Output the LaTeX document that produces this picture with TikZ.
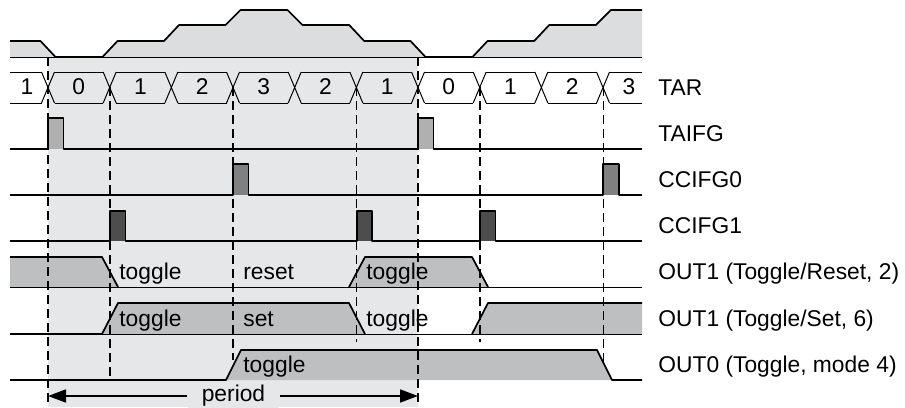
\documentclass[tikz,border=0pt]{standalone}
\usepackage{fontspec}
\setmainfont{Liberation Sans}
\usetikzlibrary{arrows.meta}
\definecolor{shadec}{RGB}{230,231,232}
\definecolor{topc}{RGB}{220,221,223}
\definecolor{outc}{RGB}{190,191,193}
\definecolor{flagc}{RGB}{176,176,176}
\definecolor{ccizc}{RGB}{128,128,128}
\definecolor{cciac}{RGB}{77,77,77}

\begin{document}
\begin{tikzpicture}[
  x=0.5pt, y=-0.5pt,
  font=\fontsize{11.4}{13}\selectfont,
  wave/.style={line width=0.85pt, line join=round},
  base/.style={line width=0.5pt},
  guide/.style={line width=0.65pt, dash pattern=on 4.5pt off 2.5pt},
  edge/.style={guide, line width=1pt},
  sig/.style={anchor=base west, inner sep=0pt},
  cnt/.style={inner sep=0pt},
  >={Triangle[length=9pt,width=6.5pt]}
]
\useasboundingbox (0,0) rectangle (905,407);

% one timer period
\fill[shadec] (48,57) rectangle (418,407);

% counter value drawn as a level
\fill[topc] (10,41) -- (40.5,41) -- (55.5,57) -- (102.5,57) -- (117.5,41)
  -- (164,41) -- (179,25) -- (225.5,25) -- (240.5,10) -- (287.5,10)
  -- (302.5,25) -- (349.2,25) -- (364.2,41) -- (410.5,41) -- (425.5,57)
  -- (472.5,57) -- (487.5,41) -- (534.2,41) -- (549.2,25) -- (595.8,25)
  -- (610.8,10) -- (642,10) -- (642,57) -- (10,57) -- cycle;
\draw[wave] (10,41) -- (40.5,41) -- (55.5,57) -- (102.5,57) -- (117.5,41)
  -- (164,41) -- (179,25) -- (225.5,25) -- (240.5,10) -- (287.5,10)
  -- (302.5,25) -- (349.2,25) -- (364.2,41) -- (410.5,41) -- (425.5,57)
  -- (472.5,57) -- (487.5,41) -- (534.2,41) -- (549.2,25) -- (595.8,25)
  -- (610.8,10) -- (642,10);
\draw[base] (10,57) -- (642,57);

% TAR bus
\foreach \i in {0,...,9}
  \draw[base] (48+\i*61.67-6.5,72) -- (48+\i*61.67+6.5,103)
              (48+\i*61.67-6.5,103) -- (48+\i*61.67+6.5,72);
\foreach \v [count=\i from 0] in {0,1,2,3,2,1,0,1,2} {
  \draw[base] (48+\i*61.67+6.5,72) -- (48+\i*61.67+55.17,72)
              (48+\i*61.67+6.5,103) -- (48+\i*61.67+55.17,103);
  \node[cnt] (tar\i) at (48+\i*61.67+30.8,87) {\v};
}
\draw[base] (10,72) -- (41.5,72) (10,103) -- (41.5,103);
\draw[base] (609.8,72) -- (642,72) (609.8,103) -- (642,103);
\node[cnt] (tarl) at (27,87) {1};
\node[cnt] (tarr) at (629,87) {3};

% flags
\foreach \x in {48,418}
  \fill[flagc] (\x,118) rectangle (\x+15.4,149);
\draw[wave] (10,149) -- (48,149) |- (63.4,118) |- (418,149) |- (433.4,118) |- (642,149);
\foreach \x in {233,603.3}
  \fill[ccizc] (\x,164) rectangle (\x+15.4,195);
\draw[wave] (10,195) -- (233,195) |- (248.4,164) |- (603.3,195) |- (618.7,164) |- (642,195);
\foreach \x in {110,356.7,480}
  \fill[cciac] (\x,211) rectangle (\x+15.4,241);
\draw[wave] (10,241) -- (110,241) |- (125.4,211) |- (356.7,241) |- (372.1,211)
  |- (480,241) |- (495.4,211) |- (642,241);

% OUT1 toggle/reset
\fill[outc] (10,257) -- (102,257) -- (118,287) -- (10,287) -- cycle;
\fill[outc] (349,287) -- (365,257) -- (472,257) -- (488,287) -- cycle;
\draw[wave] (10,257) -- (102,257) -- (118,287);
\draw[wave] (349,287) -- (365,257) -- (472,257) -- (488,287);
\draw[base] (10,287) -- (642,287);

% OUT1 toggle/set
\fill[outc] (102,334) -- (118,303) -- (349,303) -- (365,334) -- cycle;
\fill[outc] (472,334) -- (488,303) -- (642,303) -- (642,334) -- cycle;
\draw[wave] (10,334) -- (102,334) -- (118,303) -- (349,303) -- (365,334);
\draw[wave] (472,334) -- (488,303) -- (642,303);
\draw[base] (10,334) -- (642,334);

% OUT0 toggle
\fill[outc] (226,380) -- (241,350) -- (597,350) -- (612,380) -- cycle;
\draw[wave] (10,380) -- (226,380) -- (241,350) -- (597,350) -- (612,380) -- (642,380);

% event lines
\draw[edge] (48,57) -- (48,407);
\draw[edge] (418,57) -- (418,407);
\draw[guide] (110,87) -- (110,380);
\draw[guide] (233,87) -- (233,360);
\draw[guide] (356.7,87) -- (356.7,342);
\draw[guide] (480,87) -- (480,342);
\draw[guide] (603.3,87) -- (603.3,364);

% action labels
\node[sig] (tr1) at (119,279) {toggle};
\node[sig] (tr2) at (243,279) {reset};
\node[sig] (tr3) at (366,279) {toggle};
\node[sig] (ts1) at (119,326) {toggle};
\node[sig] (ts2) at (243,326) {set};
\node[sig] (ts3) at (366,326) {toggle};
\node[sig] (tg1) at (243,372) {toggle};

% period
\coordinate (pa) at (48,396);
\coordinate (pb) at (418,396);
\node[fill=shadec, inner xsep=7pt, inner ysep=1pt] (per) at (233.5,396) {period};
\draw[->, line width=0.85pt] (per) -- (pa);
\draw[->, line width=0.85pt] (per) -- (pb);

% signal names
\node[sig] (ntar) at (658,95) {TAR};
\node[sig] (ntaifg) at (658,141) {TAIFG};
\node[sig] (nccz) at (658,187) {CCIFG0};
\node[sig] (ncca) at (658,233) {CCIFG1};
\node[sig] (nout1r) at (658,279) {OUT1 (Toggle/Reset, 2)};
\node[sig] (nout1s) at (658,326) {OUT1 (Toggle/Set, 6)};
\node[sig] (nout0) at (658,372) {OUT0 (Toggle, mode 4)};
\end{tikzpicture}
\end{document}
